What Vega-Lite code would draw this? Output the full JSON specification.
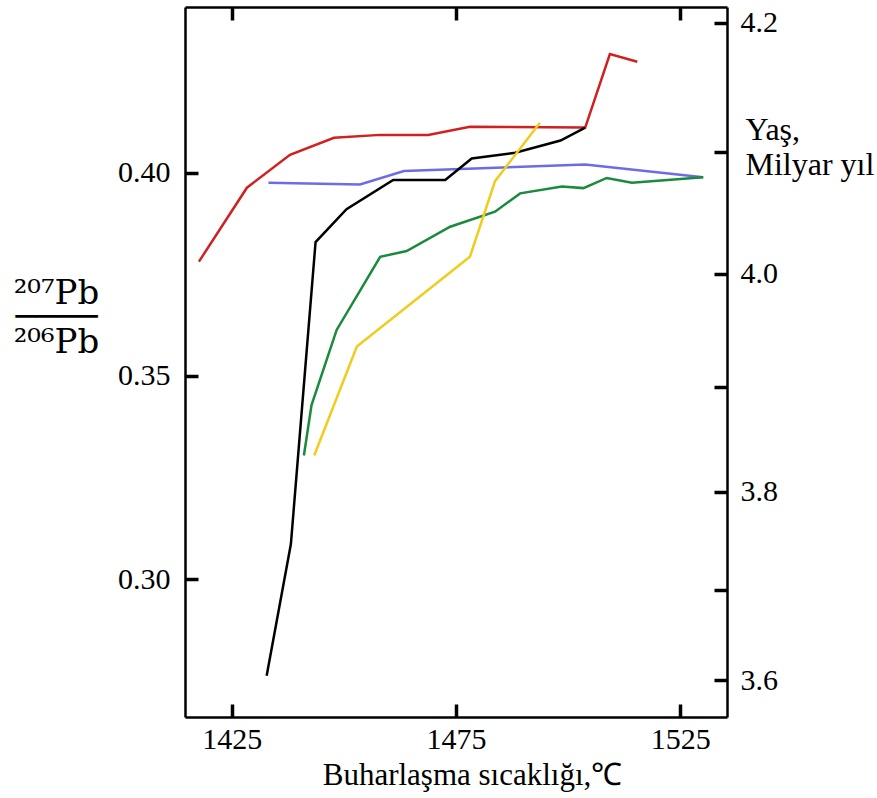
{
  "$schema": "https://vega.github.io/schema/vega-lite/v6.json",
  "width": 542,
  "height": 710,
  "autosize": {"type": "none"},
  "padding": {"left": 185, "top": 7, "right": 150, "bottom": 81},
  "background": "white",
  "config": {
    "font": "Liberation Serif",
    "view": {"stroke": null},
    "axis": {
      "grid": false,
      "domainColor": "black",
      "domainWidth": 2.5,
      "tickColor": "black",
      "tickWidth": 3.5,
      "tickSize": -13,
      "labelColor": "black",
      "labelFont": "Liberation Serif",
      "labelFontSize": 30,
      "titleColor": "black",
      "titleFont": "Liberation Serif",
      "titleFontWeight": "normal",
      "titleFontSize": 31
    }
  },
  "datasets": {
    "lines": [
      {"s": "a", "t": 1417.7, "r": 0.3781}, {"s": "a", "t": 1428.4, "r": 0.3963}, {"s": "a", "t": 1438.0, "r": 0.4044}, {"s": "a", "t": 1447.8, "r": 0.4086}, {"s": "a", "t": 1458.1, "r": 0.4093}, {"s": "a", "t": 1468.8, "r": 0.4093}, {"s": "a", "t": 1478.1, "r": 0.4113}, {"s": "a", "t": 1503.8, "r": 0.4111}, {"s": "a", "t": 1509.3, "r": 0.4292}, {"s": "a", "t": 1515.4, "r": 0.4273},
      {"s": "b", "t": 1433.2, "r": 0.3975}, {"s": "b", "t": 1453.6, "r": 0.3971}, {"s": "b", "t": 1463.4, "r": 0.4004}, {"s": "b", "t": 1503.8, "r": 0.4020}, {"s": "b", "t": 1530.1, "r": 0.3989},
      {"s": "c", "t": 1432.8, "r": 0.2762}, {"s": "c", "t": 1438.2, "r": 0.3086}, {"s": "c", "t": 1443.7, "r": 0.3829}, {"s": "c", "t": 1450.6, "r": 0.3910}, {"s": "c", "t": 1461.0, "r": 0.3982}, {"s": "c", "t": 1472.6, "r": 0.3982}, {"s": "c", "t": 1478.5, "r": 0.4035}, {"s": "c", "t": 1488.2, "r": 0.4049}, {"s": "c", "t": 1498.3, "r": 0.4079}, {"s": "c", "t": 1503.8, "r": 0.4111},
      {"s": "d", "t": 1441.1, "r": 0.3304}, {"s": "d", "t": 1442.8, "r": 0.3428}, {"s": "d", "t": 1448.4, "r": 0.3613}, {"s": "d", "t": 1458.1, "r": 0.3793}, {"s": "d", "t": 1464.0, "r": 0.3807}, {"s": "d", "t": 1473.7, "r": 0.3867}, {"s": "d", "t": 1483.7, "r": 0.3904}, {"s": "d", "t": 1489.3, "r": 0.3949}, {"s": "d", "t": 1498.6, "r": 0.3966}, {"s": "d", "t": 1503.4, "r": 0.3962}, {"s": "d", "t": 1508.6, "r": 0.3987}, {"s": "d", "t": 1514.2, "r": 0.3975}, {"s": "d", "t": 1530.1, "r": 0.3989},
      {"s": "e", "t": 1443.4, "r": 0.3304}, {"s": "e", "t": 1452.9, "r": 0.3572}, {"s": "e", "t": 1478.1, "r": 0.3793}, {"s": "e", "t": 1483.7, "r": 0.3979}, {"s": "e", "t": 1493.7, "r": 0.4123}
    ],
    "ages": [{"age": 3.6}, {"age": 4.2}]
  },
  "layer": [
    {
      "data": {"name": "lines"},
      "mark": {"type": "line", "strokeWidth": 2.5},
      "encoding": {
        "x": {
          "field": "t", "type": "quantitative",
          "scale": {"domain": [1414.6, 1535.4], "nice": false, "zero": false},
          "axis": {
            "orient": "bottom", "values": [1425, 1475, 1525], "format": "d", "labelPadding": 20,
            "title": "Buharlaşma sıcaklığı,℃",
            "titleAlign": "center", "titleBaseline": "alphabetic", "titleX": 287, "titleY": 67
          }
        },
        "y": {
          "field": "r", "type": "quantitative",
          "scale": {"domain": [0.26604, 0.44077], "nice": false, "zero": false},
          "axis": {
            "orient": "left", "values": [0.30, 0.35, 0.40], "format": ".2f", "labelPadding": 28,
            "title": ["²⁰⁷Pb", "────", "²⁰⁶Pb"],
            "titleFont": "DejaVu Serif",
            "titleAngle": 0, "titleAlign": "center", "titleBaseline": "alphabetic",
            "titleX": -129, "titleY": 296, "titleLineHeight": 24.5, "titleFontSize": 34
          }
        },
        "color": {
          "field": "s", "type": "nominal", "legend": null,
          "scale": {"domain": ["a", "b", "c", "d", "e"], "range": ["#d02020", "#6c6ce4", "#000000", "#1a8a3c", "#f0cc1e"]}
        }
      }
    },
    {
      "data": {"name": "ages"},
      "mark": {"type": "point", "opacity": 0},
      "encoding": {
        "x": {
          "datum": 1450, "type": "quantitative",
          "scale": {"domain": [1414.6, 1535.4], "nice": false, "zero": false},
          "axis": {"orient": "top", "values": [1425, 1475, 1525], "labels": false, "title": null}
        },
        "y": {
          "field": "age", "type": "quantitative",
          "scale": {"type": "pow", "exponent": 3.8, "domain": [3.5572, 4.2116], "nice": false, "zero": false},
          "axis": {
            "orient": "right", "values": [3.6, 3.7, 3.8, 3.9, 4.0, 4.1, 4.2],
            "labelExpr": "round(datum.value*10) % 2 == 0 ? format(datum.value, '.1f') : ''",
            "labelPadding": 26,
            "title": ["Yaş,", "Milyar yıl"],
            "titleAngle": 0, "titleAlign": "left", "titleBaseline": "alphabetic",
            "titleX": 18, "titleY": 132, "titleLineHeight": 35, "titleFontSize": 32
          }
        }
      }
    }
  ],
  "resolve": {"scale": {"y": "independent"}, "axis": {"x": "independent"}}
}
